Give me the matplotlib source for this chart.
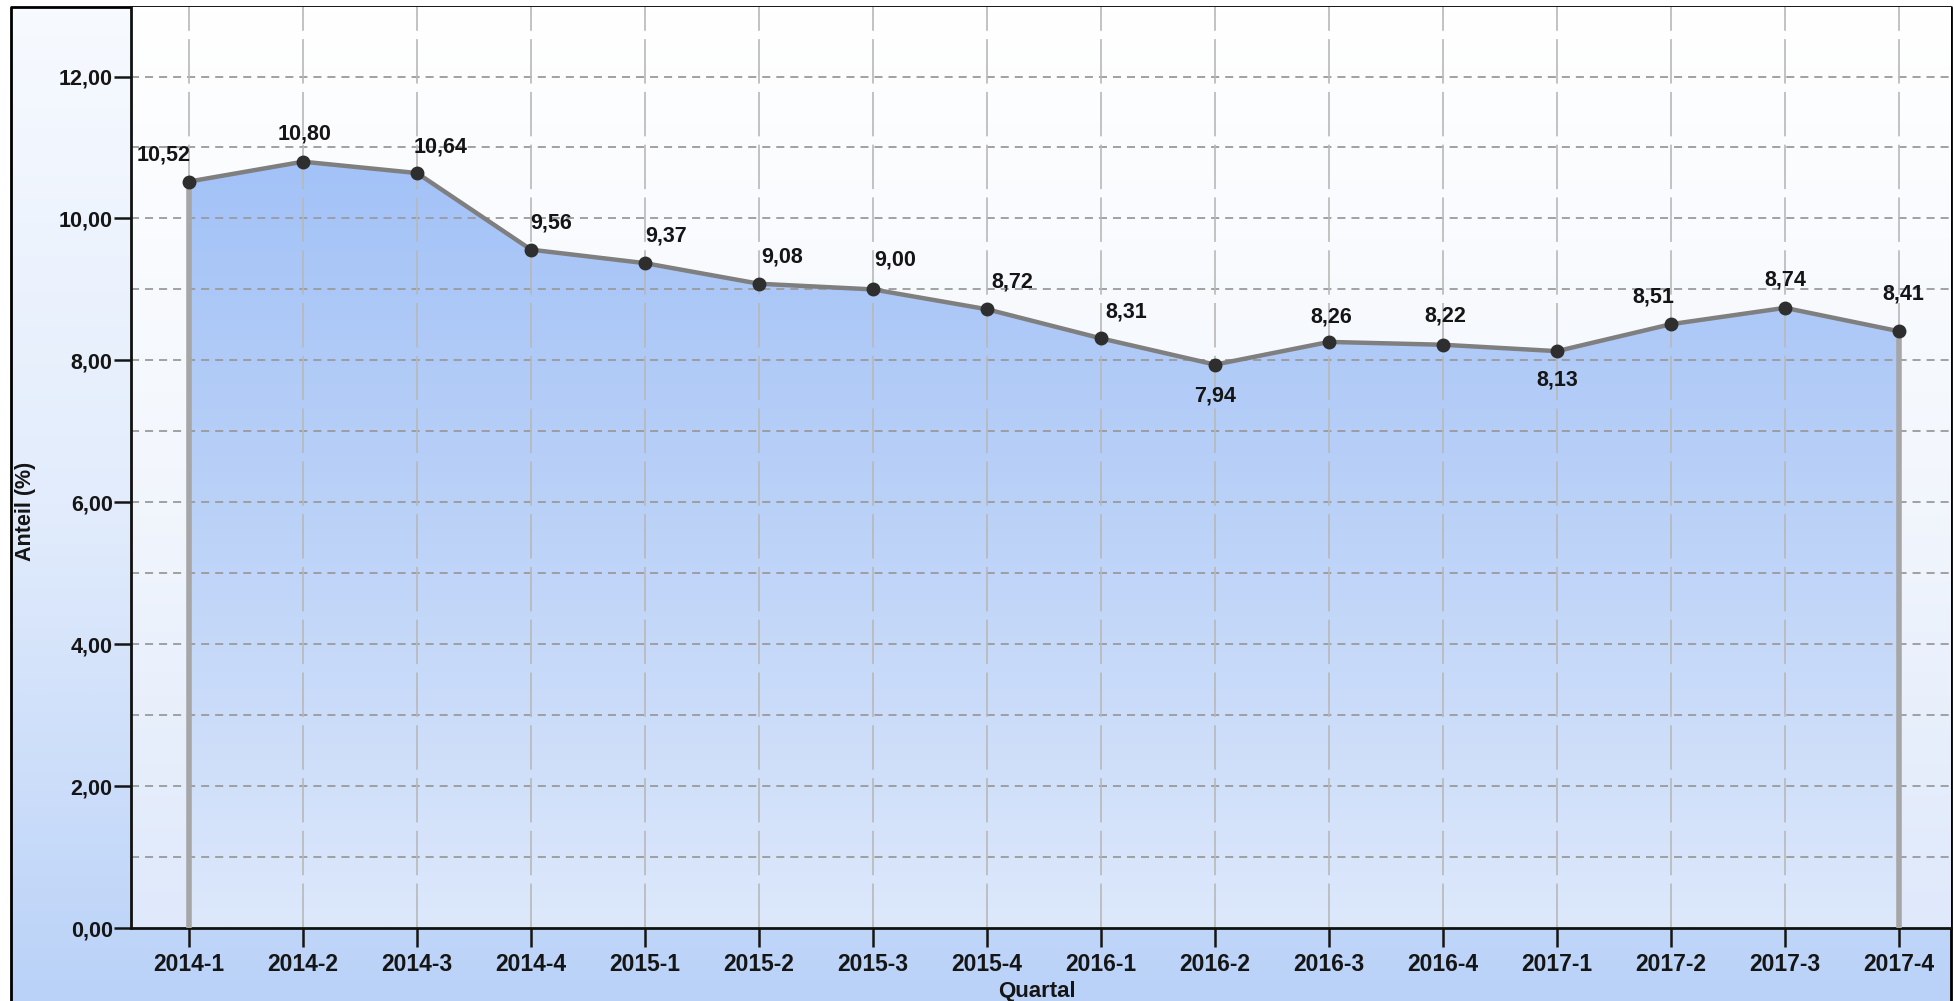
import numpy as np
import matplotlib
matplotlib.use("Agg")
import matplotlib.pyplot as plt
from matplotlib.colors import LinearSegmentedColormap
from matplotlib.patches import Polygon

plt.rcParams['font.family'] = ['Liberation Sans', 'DejaVu Sans']
plt.rcParams['lines.scale_dashes'] = False

# ---- data ----
quarters = ["2014-1", "2014-2", "2014-3", "2014-4", "2015-1", "2015-2", "2015-3", "2015-4",
            "2016-1", "2016-2", "2016-3", "2016-4", "2017-1", "2017-2", "2017-3", "2017-4"]
values = [10.52, 10.80, 10.64, 9.56, 9.37, 9.08, 9.00, 8.72,
          8.31, 7.94, 8.26, 8.22, 8.13, 8.51, 8.74, 8.41]
y_ticks = [0, 2, 4, 6, 8, 10, 12]
y_minor = [1, 3, 5, 7, 9, 11]
# label offsets in pixels (style, not data)
label_offsets = [(-25, 27), (2, 28), (24, 26), (20, 27), (21, 27), (23, 27), (22, 29), (25, 27),
                 (25, 26), (0, -31), (2, 25), (2, 29), (0, -29), (-18, 27), (0, 28), (4, 37)]

W, H = 1954, 1001
fig = plt.figure(figsize=(W / 100, H / 100), dpi=100, facecolor='white')

# ---- background figure gradient + frame ----
bg = fig.add_axes([0, 0, 1, 1], zorder=-5)
bg.axis('off')
cm_fig = LinearSegmentedColormap.from_list('figbg', ['#f7faff', '#e2ecfc', '#bad2f8'])
grad = np.linspace(0, 1, 256).reshape(-1, 1)
bg.imshow(grad, cmap=cm_fig, extent=(11, 1951, H, 7), aspect='auto', origin='upper',
          interpolation='bilinear')
bg.plot([11, 11, 1951, 1951], [H, 7, 7, H], color='black', lw=2, solid_capstyle='butt')
bg.set_xlim(0, W)
bg.set_ylim(H, 0)

# ---- main axes ----
left, right, top, bottom = 131, 1951, 7, 928
ax = fig.add_axes([left / W, 1 - bottom / H, (right - left) / W, (bottom - top) / H])
ax.patch.set_alpha(0)
x = np.arange(len(quarters))
xlim = (-0.509, 15.456)
ylim = (0, 12.98)

cm_ax = LinearSegmentedColormap.from_list('axbg', ['#ffffff', '#f3f7fd', '#dfe9fb'])
ax.imshow(grad, cmap=cm_ax, extent=(xlim[0], xlim[1], ylim[0], ylim[1]), aspect='auto',
          origin='upper', interpolation='bilinear', zorder=0)

# area fill with gradient
cm_fill = LinearSegmentedColormap.from_list('fill', ['#a3c2f7', '#bdd3f8', '#dde8fb'])
im = ax.imshow(grad, cmap=cm_fill, extent=(x[0], x[-1], 0, max(values)), aspect='auto',
               origin='upper', interpolation='bilinear', zorder=1)
verts = [(x[0], 0)] + list(zip(x, values)) + [(x[-1], 0)]
poly = Polygon(verts, closed=True, facecolor='none', edgecolor='none', transform=ax.transData)
ax.add_patch(poly)
im.set_clip_path(poly)

# grid
for yv in y_ticks[1:] + y_minor:
    ax.axhline(yv, color='#9a9a9a', lw=1.3, ls=(0, (5.8, 4.3)), zorder=2)
for xv in x:
    ax.axvline(xv, color='#b8b8b8', lw=1.2, ls=(0, (32, 6)), zorder=2)

# drop lines at ends
ax.plot([x[0], x[0]], [0, values[0]], color='#a6a6a6', lw=4, zorder=3, solid_capstyle='butt')
ax.plot([x[-1], x[-1]], [0, values[-1]], color='#a6a6a6', lw=4, zorder=3, solid_capstyle='butt')

# line and markers
ax.plot(x, values, color='#7f7f7f', lw=3.2, zorder=4)
ax.plot(x, values, ls='none', marker='o', ms=9, mfc='#2e2e2e', mec='#2e2e2e', zorder=5)

for xi, v, (dx, dy) in zip(x, values, label_offsets):
    ax.annotate(f"{v:.2f}".replace('.', ','), (xi, v), xytext=(dx, dy),
                textcoords='offset pixels', ha='center', va='center',
                fontsize=15.5, fontweight='bold', color='#151515', zorder=6)

ax.set_xlim(*xlim)
ax.set_ylim(*ylim)
ax.set_xticks(x)
ax.set_xticklabels(quarters)
ax.set_yticks(y_ticks)
ax.set_yticklabels([f"{v:.2f}".replace('.', ',') for v in y_ticks])
ax.tick_params(axis='y', length=12.2, width=1.8, pad=1, labelsize=15.5, colors='#151515')
ax.tick_params(axis='x', length=13.7, width=1.8, pad=4, labelsize=16.5, colors='#151515')
for lab in ax.get_xticklabels() + ax.get_yticklabels():
    lab.set_fontweight('bold')
for side in ['left', 'bottom']:
    ax.spines[side].set_linewidth(2)
    ax.spines[side].set_color('#111111')
ax.spines['top'].set_visible(False)
ax.spines['right'].set_visible(False)

fig.text(25 / W, 1 - 511 / H, "Anteil (%)", rotation=90, ha='center', va='center',
         fontsize=15.5, fontweight='bold', color='#151515')
fig.text(1037 / W, 1 - 991 / H, "Quartal", ha='center', va='center',
         fontsize=16, fontweight='bold', color='#151515')

fig.savefig("out.png", dpi=100, facecolor='white')
